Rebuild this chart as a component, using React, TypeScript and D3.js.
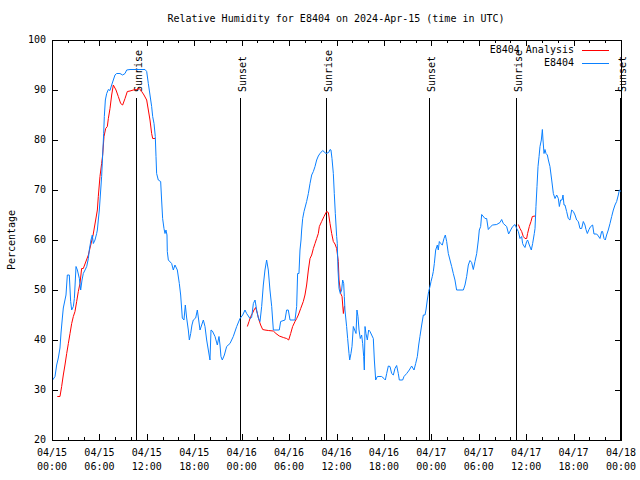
import React from "react";
import * as d3 from "d3";

// hours after 2024-04-15 00:00 UTC
const obsHours = [
  0.08, 0.38, 0.59, 0.8, 1.01, 1.14, 1.31, 1.43, 1.64, 1.77, 1.94, 2.19, 2.36, 2.49, 2.7, 2.83, 3.04, 3.21, 3.46, 3.63,
  3.8, 3.96, 4.18, 4.39, 4.6, 4.72, 4.93, 5.1, 5.23, 5.44, 5.65, 5.74, 5.86, 5.99, 6.28, 6.41, 6.54, 6.62, 6.75, 6.92,
  7.13, 7.34, 7.55, 7.76, 7.97, 8.18, 8.6, 8.94, 9.24, 9.45, 9.87, 11.13, 11.77, 11.98, 12.19, 12.4, 12.61, 12.74, 12.91, 13.07,
  13.16, 13.24, 13.45, 13.75, 13.87, 14.0, 14.17, 14.3, 14.42, 14.55, 14.59, 14.72, 15.14, 15.35, 15.56, 15.86, 16.11, 16.28, 16.49, 16.7,
  16.87, 17.04, 17.25, 17.38, 17.55, 17.71, 17.88, 18.18, 18.39, 18.56, 18.73, 18.94, 19.15, 19.36, 19.57, 19.78, 19.99, 20.12, 20.29, 20.63,
  20.92, 21.13, 21.26, 21.38, 21.55, 21.81, 22.1, 22.52, 22.94, 23.37, 23.79, 24.13, 24.42, 24.63, 25.05, 25.26, 25.48, 25.69, 25.9, 26.11,
  26.32, 26.53, 26.74, 26.95, 27.16, 27.37, 27.58, 27.8, 28.01, 28.76, 28.93, 29.48, 29.69, 29.9, 30.12, 30.75, 30.96, 31.08, 31.25, 31.38,
  31.51, 31.59, 31.72, 31.89, 32.22, 32.44, 32.65, 32.86, 33.07, 33.28, 33.49, 33.7, 33.91, 34.25, 34.67, 35.01, 35.18, 35.3, 35.43, 35.6,
  35.72, 35.85, 36.02, 36.1, 36.19, 36.32, 36.48, 36.65, 36.78, 36.91, 36.99, 37.07, 37.28, 37.41, 37.58, 37.67, 37.83, 37.96, 38.13, 38.3,
  38.47, 38.59, 38.72, 38.85, 39.01, 39.18, 39.31, 39.44, 39.52, 39.61, 39.73, 39.9, 40.07, 40.24, 40.45, 40.66, 40.79, 40.96, 41.17, 41.71,
  42.01, 42.18, 42.35, 42.56, 42.77, 42.98, 43.19, 43.4, 43.61, 43.82, 43.95, 44.37, 44.54, 44.88, 45.21, 45.51, 45.81, 46.02, 46.23, 46.4,
  46.56, 46.78, 46.99, 47.2, 47.32, 47.49, 47.66, 47.83, 47.96, 48.12, 48.25, 48.38, 48.55, 48.76, 48.88, 49.01, 49.18, 49.39, 49.6, 49.77,
  49.94, 50.15, 50.36, 50.57, 50.78, 50.99, 51.2, 52.05, 52.26, 52.47, 52.68, 52.89, 53.1, 53.31, 53.52, 53.74, 53.95, 54.07, 54.24, 54.37,
  54.79, 55.0, 55.21, 55.51, 55.76, 56.27, 56.69, 56.9, 57.11, 57.53, 57.78, 58.04, 58.29, 58.59, 58.8, 59.01, 59.22, 59.43, 59.55, 59.64,
  59.85, 60.06, 60.18, 60.4, 60.65, 60.82, 61.03, 61.12, 61.24, 61.37, 61.5, 61.63, 61.75, 61.92, 62.05, 62.13, 62.26, 62.38, 62.51, 62.68,
  62.81, 63.01, 63.23, 63.44, 63.65, 63.86, 64.07, 64.2, 64.36, 64.54, 64.66, 64.79, 64.91, 65.12, 65.33, 65.54, 65.76, 65.97, 66.18, 66.39,
  66.6, 66.81, 67.02, 67.23, 67.44, 67.57, 67.74, 67.95, 68.16, 68.41, 68.58, 68.92, 69.13, 69.34, 69.55, 69.67, 69.85, 70.01, 70.18, 70.39,
  70.61, 70.82, 71.03, 71.24, 71.45, 71.66, 71.79, 72.0,
];
const obsValues = [
  32, 32.7, 35, 36.4, 38.4, 41.4, 44.4, 46.4, 48, 49, 53, 53, 47.7, 46, 46.7, 48.3, 54.7, 54, 52.3, 50,
  52, 53.3, 54, 54.7, 56.3, 58, 60, 61, 59.3, 60, 61.3, 62, 64, 66, 72.7, 77, 81.3, 84.7, 88, 89.3,
  90.1, 89.9, 91, 92, 93, 93.3, 93.3, 93, 93.3, 94, 94.1, 94.1, 94.1, 93.7, 91.3, 89, 86.7, 84.7, 83.3, 80.7,
  76.7, 73.3, 72, 71.7, 68, 64.3, 62.3, 61.3, 62, 61, 57.7, 56, 55.3, 54, 55, 54, 51.3, 49, 44.4, 44,
  47, 44.4, 42, 40, 41.3, 43, 44, 44.4, 46, 44, 42, 43, 44, 42.7, 40, 38, 36, 42, 41.8, 40.7,
  39, 40.7, 39, 36.7, 36, 37, 38.7, 39.3, 40.7, 42.7, 44.3, 45, 46, 45.3, 44.3, 44.5, 47.3, 48, 46, 44.4,
  43.7, 46.7, 51, 54, 56, 54, 50, 46.7, 42, 42, 43.7, 44, 46, 46, 44, 44, 46.7, 53.3, 53.3, 58,
  60, 62, 64.3, 65.7, 67.7, 69.3, 71.3, 73, 73.7, 74.7, 76, 76.8, 77.3, 77.9, 77.3, 77.5, 78.1, 78, 76.3, 73.3,
  69.3, 65.3, 60.7, 59.3, 54, 50.3, 49.3, 50, 52, 51.3, 48.7, 46, 42.7, 40.3, 37.3, 36, 37.3, 38.7, 42.7, 42,
  41.3, 46, 44.7, 42, 40.3, 41, 39.3, 36.7, 34, 42.7, 41.3, 40, 42, 41.7, 41, 40.3, 36, 32, 32.7, 32.7,
  32.3, 32, 33.3, 34.8, 34.7, 33.3, 33, 34.3, 34.9, 33.3, 32, 32, 32.7, 33.3, 34, 34.8, 34, 35.3, 36.7, 39,
  40.7, 43, 45, 45, 46, 48, 49.7, 50.7, 51.7, 52.7, 53.7, 55.3, 58, 59, 58, 59.7, 59.3, 59, 60.3, 61,
  59.7, 57.3, 56, 54.7, 53.3, 52, 50, 50, 51, 52.7, 55, 55.9, 55.5, 54.1, 55.7, 57.3, 60, 62, 62.7, 65.1,
  64.3, 64.3, 62.1, 62.7, 63, 63.1, 63.5, 64.1, 63.3, 62.7, 61.2, 62, 62.7, 63.1, 62.3, 61.7, 60.3, 60.7, 59.3, 59,
  58.5, 59.7, 60, 59, 58, 59.3, 61.3, 62.3, 66.7, 70.7, 74.7, 76.7, 78.7, 80, 82.1, 80, 77.3, 78.1, 77.3, 77,
  76, 74.7, 72, 69.3, 68.3, 69, 68.3, 66.7, 68, 68, 69, 67, 67, 65.7, 64.3, 64, 66, 65.7, 65, 64,
  63.7, 62.3, 62.3, 63.7, 63, 62.1, 61.3, 62.1, 62.7, 63, 61.2, 61.2, 60.8, 60.3, 61.7, 61.7, 60.3, 60, 61, 62,
  63.3, 64.7, 66, 67, 67.7, 69, 70, 69.7,
];

// analysis values; NaN marks a gap in the series
const anaHours = [
  0.67, 1.01, 1.22, 1.43, 1.64, 1.86, 2.07, 2.28, 2.49, 2.7, 2.91, 3.12, 3.33, 3.54, 3.75, 3.96, 4.6, 5.2, 5.74, 5.86,
  6.07, 6.28, 6.41, 6.58, 6.79, 7.0, 7.13, 7.34, 7.55, 7.76, 8.1, 8.39, 8.69, 8.94, 9.24, 9.53, 9.87, 10.29, 10.71, 11.05,
  11.35, 11.64, 11.98, 12.19, 12.4, 12.61, 12.74, 13.03, 18,
  24.72, 24.93, 25.14, 25.35, 25.56, 25.77, 25.98, 26.19, 26.4, 26.66, 26.95, 27.37, 28.01, 28.34, 28.76, 29.27, 29.69, 29.95, 30.2, 30.45,
  30.75, 30.96, 31.17, 31.47, 31.8, 32.01, 32.22, 32.44, 32.65, 32.86, 33.07, 33.28, 33.49, 33.7, 33.83, 34.12, 34.42, 34.75, 34.97, 35.18,
  35.39, 35.6, 35.81, 36.02, 36.1, 36.23, 36.32, 36.53, 36.7, 36.87, 36.99, 37.07, 48,
  59.01, 59.22, 59.43, 59.64, 59.85, 60.06, 60.18, 60.4, 60.61, 60.78, 61.12,
];
const anaValues = [
  28.7, 28.7, 30.7, 33, 35, 37.3, 39.3, 41.3, 43.3, 44.7, 45.7, 47.7, 49.7, 51.3, 54.3, 54.3, 57, 61, 66, 68.7,
  72.7, 75.3, 77, 80.7, 82.3, 82.7, 84.3, 86.3, 89, 91, 90, 88.7, 87.3, 87, 88.3, 89.7, 89.8, 90, 90.1, 90.3,
  89.7, 89, 88, 86, 84, 81.3, 80.3, 80.3, NaN,
  42.7, 43.7, 44.7, 45.3, 46, 46.5, 45.3, 44, 43, 42.1, 42, 41.9, 41.8, 41.3, 40.8, 40.5, 40.3, 40, 41.3, 42.7,
  43.7, 44.3, 45, 46.3, 47.7, 49, 51, 54, 56.3, 57, 58.3, 59.3, 60.3, 61.3, 62.7, 63.7, 64.7, 65.7, 65.5, 63.3,
  61.3, 59.7, 59.2, 58.3, 57.3, 55.7, 52, 49.3, 48.7, 45.3, 46.7, 46.7, NaN,
  63.1, 62.3, 61.7, 60.7, 60.3, 60.3, 61.3, 62.7, 63.7, 64.7, 64.8,
];

const sunLabels = ["Sunrise", "Sunset", "Sunrise", "Sunset", "Sunrise", "Sunset"];
const sunHours = [10.63, 23.83, 34.63, 47.75, 58.67, 71.87];

const yTicks = [20, 30, 40, 50, 60, 70, 80, 90, 100];
const seriesNames = ["E8404 Analysis", "E8404"];
const seriesColors = ["#ff0000", "#0a80ff"];

const T0 = Date.UTC(2024, 3, 15);
const toDate = (h: number) => new Date(T0 + h * 3600e3);

const FONT = "'DejaVu Sans Mono', monospace";

export default function App() {
  const left = 52, right = 621, top = 40, bottom = 440;
  const x = d3.scaleUtc().domain([toDate(0), toDate(72)]).range([left, right]);
  const y = d3.scaleLinear().domain([20, 100]).range([bottom, top]);

  const majorX = x.ticks(d3.utcHour.every(6)!);
  const minorX = x.ticks(d3.utcHour.every(2)!).filter((d) => d.getUTCHours() % 6 !== 0);
  const fmtDay = d3.utcFormat("%m/%d");
  const fmtTime = d3.utcFormat("%H:%M");

  const line = d3
    .line<[number, number]>()
    .defined((d) => !isNaN(d[1]))
    .x((d) => x(toDate(d[0])))
    .y((d) => y(d[1]));

  const obs: [number, number][] = obsHours.map((h, i) => [h, obsValues[i]]);
  const ana: [number, number][] = anaHours.map((h, i) => [h, anaValues[i]]);

  return (
    <svg
      width={640}
      height={480}
      style={{ position: "absolute", left: 0, top: 0, background: "#fff" }}
      fontFamily={FONT}
      fontSize={10}
    >
      <rect x={0} y={0} width={640} height={480} fill="#fff" />
      <text x={336} y={19} textAnchor="middle" dominantBaseline="middle">
        Relative Humidity for E8404 on 2024-Apr-15 (time in UTC)
      </text>

      {/* sunrise / sunset markers */}
      {sunHours.map((h, i) => {
        const sx = Math.round(x(toDate(h))) + 0.5;
        return (
          <g key={"s" + i}>
            <line x1={sx} x2={sx} y1={98} y2={bottom} stroke="#000" strokeWidth={1} />
            <text
              transform={`translate(${sx + 5},92) rotate(-90)`}
              textAnchor="start"
            >
              {sunLabels[i]}
            </text>
          </g>
        );
      })}

      <g shapeRendering="crispEdges" stroke="#000">
        {/* x ticks bottom and top */}
        {majorX.map((d, i) => (
          <g key={"mx" + i}>
            <line x1={Math.round(x(d)) + 0.5} x2={Math.round(x(d)) + 0.5} y1={bottom} y2={bottom - 6} />
            <line x1={Math.round(x(d)) + 0.5} x2={Math.round(x(d)) + 0.5} y1={top} y2={top + 6} />
          </g>
        ))}
        {minorX.map((d, i) => (
          <g key={"nx" + i}>
            <line x1={Math.round(x(d)) + 0.5} x2={Math.round(x(d)) + 0.5} y1={bottom} y2={bottom - 3} />
            <line x1={Math.round(x(d)) + 0.5} x2={Math.round(x(d)) + 0.5} y1={top} y2={top + 3} />
          </g>
        ))}
        {yTicks.map((t) => (
          <g key={"y" + t}>
            <line x1={left} x2={left + 6} y1={Math.round(y(t)) + 0.5} y2={Math.round(y(t)) + 0.5} />
            <line x1={right} x2={right - 6} y1={Math.round(y(t)) + 0.5} y2={Math.round(y(t)) + 0.5} />
          </g>
        ))}
      </g>

      {/* data */}
      <path d={line(ana) ?? ""} fill="none" stroke={seriesColors[0]} strokeWidth={1} />
      <path d={line(obs) ?? ""} fill="none" stroke={seriesColors[1]} strokeWidth={1} />

      {/* frame */}
      <rect
        x={left + 0.5}
        y={top + 0.5}
        width={right - left}
        height={bottom - top}
        fill="none"
        stroke="#000"
        shapeRendering="crispEdges"
      />

      {/* tick labels */}
      {majorX.map((d, i) => (
        <g key={"lx" + i}>
          <text x={x(d)} y={453} textAnchor="middle" dominantBaseline="middle">
            {fmtDay(d)}
          </text>
          <text x={x(d)} y={467} textAnchor="middle" dominantBaseline="middle">
            {fmtTime(d)}
          </text>
        </g>
      ))}
      {yTicks.map((t) => (
        <text key={"ly" + t} x={46} y={y(t)} textAnchor="end" dominantBaseline="middle">
          {t}
        </text>
      ))}
      <text transform="translate(12,240) rotate(-90)" textAnchor="middle" dominantBaseline="middle">
        Percentage
      </text>

      {/* legend */}
      {seriesNames.map((name, i) => (
        <g key={"lg" + i}>
          <text x={574} y={50 + i * 12.5} textAnchor="end" dominantBaseline="middle">
            {name}
          </text>
          <line
            x1={582}
            x2={609}
            y1={50.5 + i * 12.5}
            y2={50.5 + i * 12.5}
            stroke={seriesColors[i]}
            shapeRendering="crispEdges"
          />
        </g>
      ))}
    </svg>
  );
}
